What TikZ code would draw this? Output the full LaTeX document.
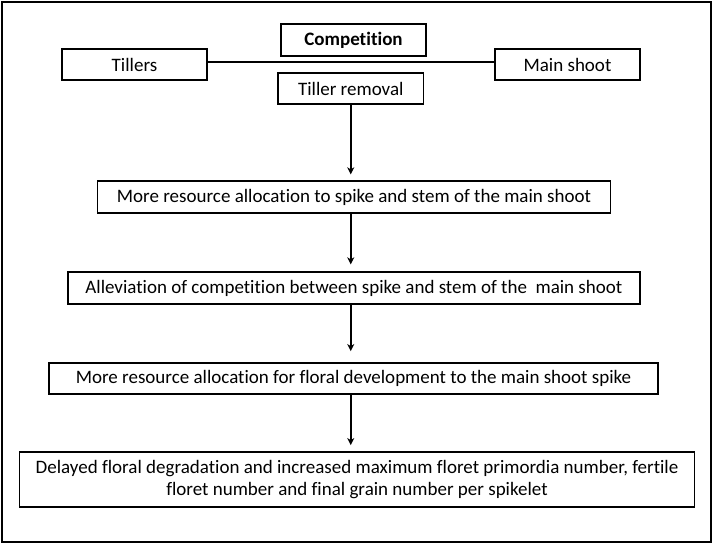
\documentclass[tikz,border=0pt]{standalone}
\usepackage{fontspec}
\setmainfont{Carlito}[Ligatures=NoCommon]
\usetikzlibrary{arrows.meta}
\begin{document}
\begin{tikzpicture}[x=1pt,y=-1pt,
  box/.style={draw,line width=1.8pt,inner sep=0pt,align=center,font=\fontsize{19}{21.7}\selectfont},
  arr/.style={line width=1.8pt,-{Stealth[length=7pt,width=7pt,inset=2pt]}},
  link/.style={line width=1.8pt}]
\useasboundingbox (0,0) rectangle (714,545);
\node[draw,line width=1.8pt,minimum width=708.7pt,minimum height=540pt,inner sep=0pt] (frame) at (356.35,272) {};
\node[box,minimum width=145pt,minimum height=32pt,font=\fontsize{19}{21.7}\selectfont\bfseries] (comp) at (353.5,40) {Competition};
\node[box,minimum width=145.5pt,minimum height=31pt] (till) at (134.5,64.5) {Tillers};
\node[box,minimum width=145pt,minimum height=31pt] (main) at (567.5,64.5) {Main shoot};
\node[box,minimum width=145.5pt,minimum height=31.6pt,fill=white] (trem) at (350.75,88.5) {Tiller removal};
\node[box,minimum width=513pt,minimum height=31.5pt] (b1) at (354,197) {More resource allocation to spike and stem of the main shoot};
\node[box,minimum width=572pt,minimum height=31.5pt] (b2) at (353.9,288) {Alleviation of competition between spike and stem of the\ \ main shoot};
\node[box,minimum width=609pt,minimum height=31pt] (b3) at (353.5,378.5) {More resource allocation for floral development to the main shoot spike};
\node[box,minimum width=675pt,minimum height=55pt] (b4) at (357,479.5) {Delayed floral degradation and increased maximum floret primordia number, fertile\\floret number and final grain number per spikelet};
\coordinate (ly) at (0,61.7);
\draw[link] (till.east |- ly) -- (main.west |- ly);
\draw[arr,shorten >=6pt] (trem.south) -- (trem.south |- b1.north);
\draw[arr,shorten >=7pt] (trem.south |- b1.south) -- (trem.south |- b2.north);
\draw[arr,shorten >=11pt] (trem.south |- b2.south) -- (trem.south |- b3.north);
\draw[arr,shorten >=6pt] (trem.south |- b3.south) -- (trem.south |- b4.north);
\end{tikzpicture}
\end{document}
